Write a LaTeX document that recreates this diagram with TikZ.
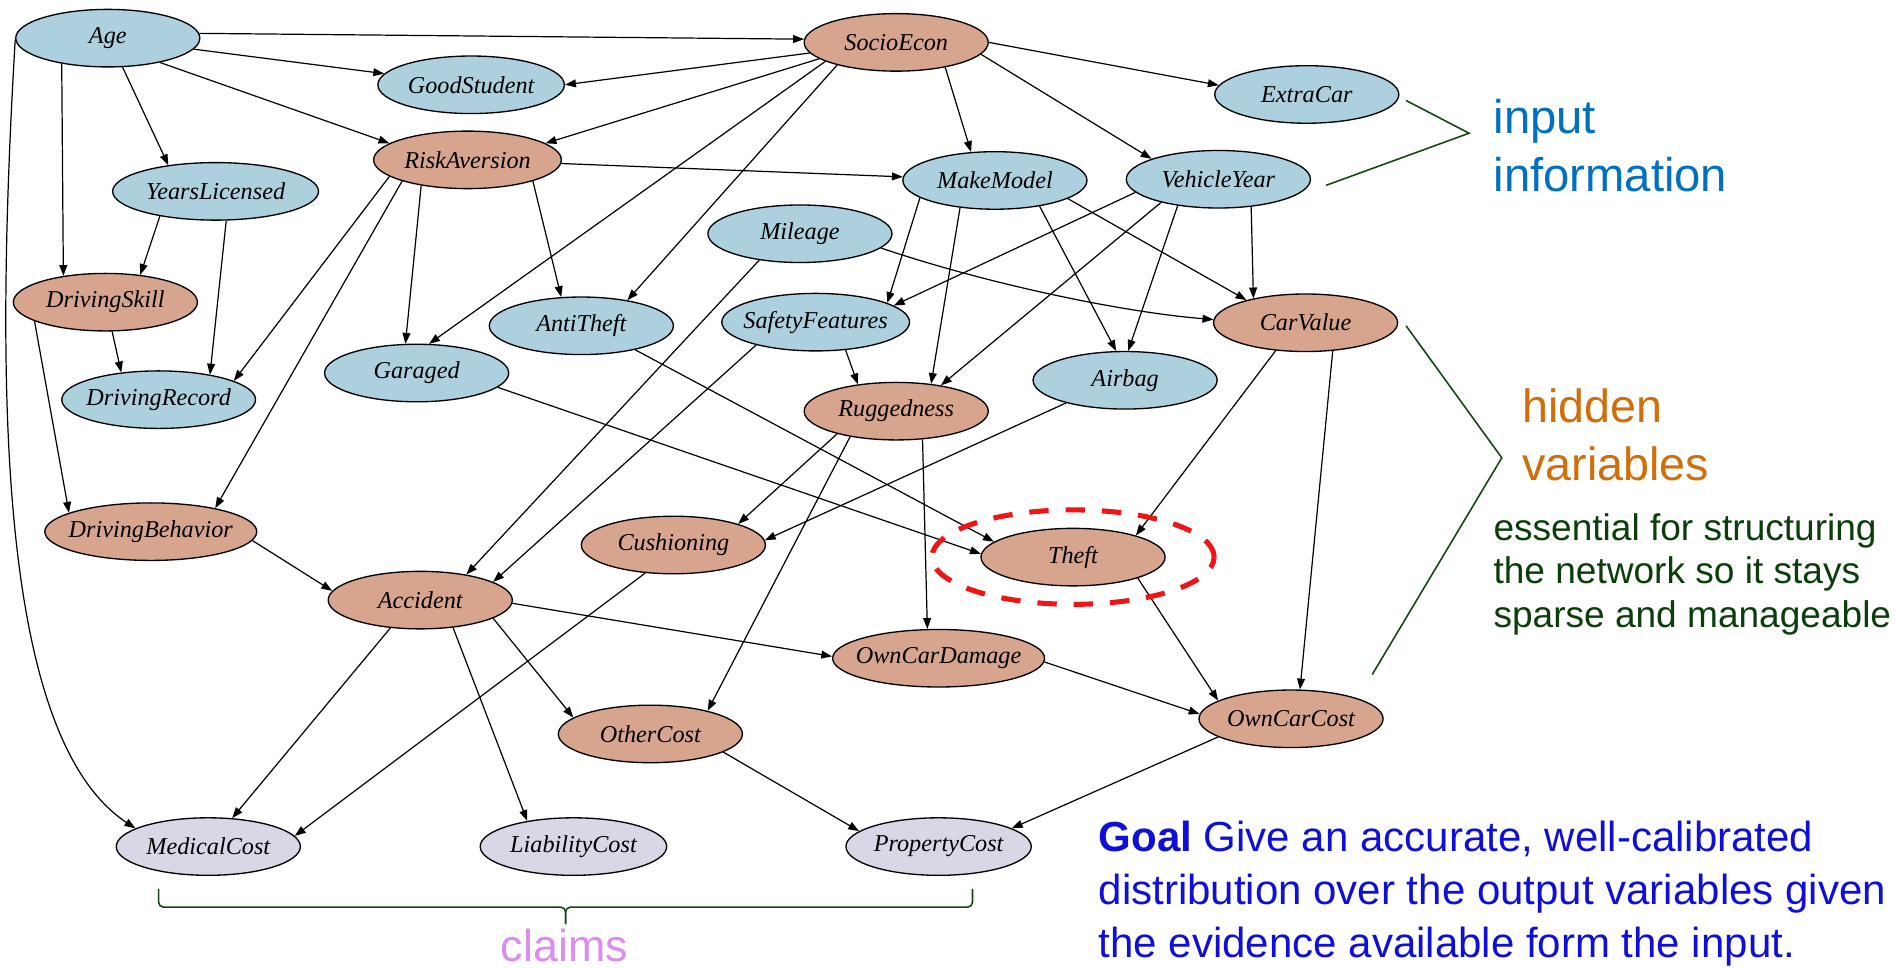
\documentclass[tikz,border=0pt]{standalone}
\usepackage{fontspec}
\setmainfont{Liberation Serif}
\newfontfamily\notefont{Liberation Sans}
\usetikzlibrary{arrows.meta,shapes.geometric}

\definecolor{inblue}{RGB}{173,208,222}
\definecolor{hidsalmon}{RGB}{215,164,142}
\definecolor{outlav}{RGB}{218,214,230}
\definecolor{inputtxt}{RGB}{0,112,192}
\definecolor{hiddentxt}{RGB}{208,110,10}
\definecolor{notetxt}{RGB}{12,62,12}
\definecolor{bracketgreen}{RGB}{20,70,20}
\definecolor{goaltxt}{RGB}{15,15,215}
\definecolor{claimtxt}{RGB}{220,140,240}
\definecolor{ringred}{RGB}{240,20,20}

% zero-width label: the ellipse size comes only from minimum width/height
\newcommand{\vlabel}[1]{\makebox[0pt]{#1}}

\begin{document}
\begin{tikzpicture}[x=1pt, y=-1pt,
  var/.style={ellipse, draw=black, line width=1.1pt, inner sep=0pt,
    minimum height=47.5pt, minimum width=#1,
    font=\fontsize{20}{24}\selectfont\itshape},
  var/.default=152pt,
  invar/.style={var=#1, fill=inblue}, invar/.default=152pt,
  hidvar/.style={var=#1, fill=hidsalmon}, hidvar/.default=152pt,
  outvar/.style={var=#1, fill=outlav}, outvar/.default=152pt,
  arc/.style={-{Triangle[length=9pt,width=6.5pt]}, line width=1pt},
  bracket/.style={draw=bracketgreen, line width=1.3pt},
  note/.style={anchor=base west, inner sep=0pt, font=\notefont\fontsize{#1}{#1}\selectfont},
]
\useasboundingbox (0,0) rectangle (1568,800);

% ---- variables of the network ----
\node[invar] (age) at (89,31.5) {\vlabel{Age}};
\node[hidvar] (socio) at (740,35) {\vlabel{SocioEcon}};
\node[invar=154pt] (good) at (389,70) {\vlabel{GoodStudent}};
\node[invar] (extra) at (1079,78) {\vlabel{ExtraCar}};
\node[hidvar=155pt] (risk) at (386,132) {\vlabel{RiskAversion}};
\node[invar=170pt] (years) at (178,158) {\vlabel{YearsLicensed}};
\node[invar] (make) at (821.5,149) {\vlabel{MakeModel}};
\node[invar] (vyear) at (1006,148) {\vlabel{VehicleYear}};
\node[invar] (mileage) at (660.5,193) {\vlabel{Mileage}};
\node[hidvar] (dskill) at (87,249.5) {\vlabel{DrivingSkill}};
\node[invar] (anti) at (480,269) {\vlabel{AntiTheft}};
\node[invar=155pt] (safety) at (673.5,266) {\vlabel{SafetyFeatures}};
\node[hidvar] (carval) at (1078,266.5) {\vlabel{CarValue}};
\node[invar] (garaged) at (344,308) {\vlabel{Garaged}};
\node[invar=160pt] (drec) at (131,330) {\vlabel{DrivingRecord}};
\node[invar] (airbag) at (929,314) {\vlabel{Airbag}};
\node[hidvar] (rugged) at (740,339.5) {\vlabel{Ruggedness}};
\node[hidvar=175pt] (dbeh) at (124.5,439) {\vlabel{DrivingBehavior}};
\node[hidvar] (cushion) at (556,450) {\vlabel{Cushioning}};
\node[hidvar] (theft) at (886,460) {\vlabel{Theft}};
\node[hidvar] (accident) at (347,495.5) {\vlabel{Accident}};
\node[hidvar=175pt] (ocdam) at (775,543.5) {\vlabel{OwnCarDamage}};
\node[hidvar] (other) at (537,606) {\vlabel{OtherCost}};
\node[hidvar] (occost) at (1066,593.5) {\vlabel{OwnCarCost}};
\node[outvar] (medical) at (172,699) {\vlabel{MedicalCost}};
\node[outvar=154pt] (liab) at (473.5,699) {\vlabel{LiabilityCost}};
\node[outvar=153pt] (prop) at (775,699) {\vlabel{PropertyCost}};

% ---- arcs ----
% Age
\draw[arc] (age.3) -- (socio.178);
\draw[arc] (age) -- (good);
\draw[arc] (age.335) -- (risk.168);
\draw[arc] (age.297) -- (years.151);
\draw[arc] (age.209) -- (dskill.148);
\draw[arc] (age.181) .. controls (-5,330) and (0,610) .. (medical.166);
% SocioEcon
\draw[arc] (socio.187) -- (good.east);
\draw[arc] (socio.192) -- (risk.12);
\draw[arc] (socio.195) -- (garaged.67);
\draw[arc] (socio.201) -- (anti.29);
\draw[arc] (socio.333) -- (make.130);
\draw[arc] (socio.352) -- (vyear.163);
\draw[arc] (socio.east) -- (extra.174);
% YearsLicensed, DrivingSkill
\draw[arc] (years.204) -- (dskill.38);
\draw[arc] (years.290) -- (drec.26);
\draw[arc] (dskill.283) -- (drec.144);
\draw[arc] (dskill.195) -- (dbeh.167);
% RiskAversion
\draw[arc] (risk) -- (make);
\draw[arc] (risk.342) -- (anti.125);
\draw[arc] (risk.209) -- (garaged.111);
\draw[arc] (risk.192) -- (drec.14);
\draw[arc] (risk.198) -- (dbeh.20);
% MakeModel
\draw[arc] (make.193) -- (safety.15);
\draw[arc] (make.218) -- (rugged.38);
\draw[arc] (make.330) -- (airbag.107);
\draw[arc] (make.346) -- (carval.159);
% VehicleYear
\draw[arc] (vyear.189) -- (safety.12);
\draw[arc] (vyear.202) -- (rugged.30);
\draw[arc] (vyear.213) -- (airbag.84);
\draw[arc] (vyear.320) -- (carval.155);
% Mileage
\draw[arc] (mileage.350) .. controls (820,236) and (930,258) .. (carval.178);
\draw[arc] (mileage.213) -- (accident.29);
% SafetyFeatures
\draw[arc] (safety.317) -- (rugged.145);
\draw[arc] (safety.201) -- (accident.14);
% AntiTheft, Garaged, Airbag
\draw[arc] (anti.336) -- (theft.169);
\draw[arc] (garaged.350) -- (theft.178);
\draw[arc] (airbag.201) -- (cushion.3);
% CarValue
\draw[arc] (carval.223) -- (theft.19);
\draw[arc] (carval.314) -- (occost.73);
% Ruggedness
\draw[arc] (rugged.201) -- (cushion.18);
\draw[arc] (rugged.209) -- (other.22);
\draw[arc] (rugged.313) -- (ocdam.111);
% DrivingBehavior, Accident
\draw[arc] (dbeh.355) -- (accident.174);
\draw[arc] (accident.223) -- (medical.50);
\draw[arc] (accident.320) -- (liab.151);
\draw[arc] (accident.346) -- (other.168);
\draw[arc] (accident.358) -- (ocdam.179);
% Cushioning, Theft and the cost variables
\draw[arc] (cushion.225) -- (medical.7);
\draw[arc] (theft.342) -- (occost.166);
\draw[arc] (ocdam.358) -- (occost.177);
\draw[arc] (other.346) -- (prop.169);
\draw[arc] (occost.194) -- (prop.14);

% ---- highlight ring round Theft ----
\draw[ringred, line width=4.2pt, dash pattern=on 16pt off 14pt]
  (theft.center) ellipse [x radius=116.5pt, y radius=39pt];

% ---- brackets ----
\coordinate (inA) at (1161,83);
\coordinate (inB) at (1213,110);
\coordinate (inC) at (1095,153);
\draw[bracket] (inA) -- (inB) -- (inC);
\coordinate (hidA) at (1161,269);
\coordinate (hidB) at (1240,378);
\coordinate (hidC) at (1133,557);
\draw[bracket] (hidA) -- (hidB) -- (hidC);
\coordinate (clL) at (131,734);
\coordinate (clR) at (803,734);
\coordinate (clTip) at (467,763);
\draw[bracket, rounded corners=4pt] (clL) -- (131,749) -- (467,749) -- (clTip);
\draw[bracket, rounded corners=4pt] (clR) -- (803,749) -- (467,749) -- (clTip);

% ---- annotations ----
\node[note=39, text=inputtxt] (inp1) at (1233,110.5) {input};
\node[note=39, text=inputtxt] (inp2) at (1233,158) {information};
\node[note=38.5, text=hiddentxt] (hid1) at (1257,349) {hidden};
\node[note=38.5, text=hiddentxt] (hid2) at (1257,396.5) {variables};
\node[note=30.6, text=notetxt] (ess1) at (1233,446) {essential for structuring};
\node[note=30.6, text=notetxt] (ess2) at (1233,482) {the network so it stays};
\node[note=30.6, text=notetxt] (ess3) at (1233,518.5) {sparse and manageable};
\node[note=34.7, text=goaltxt] (goal1) at (907,703) {\textbf{Goal} Give an accurate, well-calibrated};
\node[note=34.7, text=goaltxt] (goal2) at (907,747) {distribution over the output variables given};
\node[note=34.7, text=goaltxt] (goal3) at (907,791) {the evidence available form the input.};
\node[anchor=base, inner sep=0pt, font=\notefont\fontsize{37}{37}\selectfont, text=claimtxt] (claims) at (466,794) {claims};
\end{tikzpicture}
\end{document}
